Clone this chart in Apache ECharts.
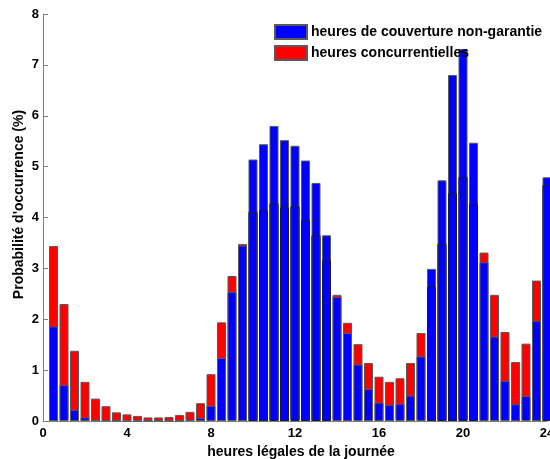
<!DOCTYPE html>
<html>
<head>
<meta charset="utf-8">
<script src="https://cdn.jsdelivr.net/npm/echarts@6/dist/echarts.min.js"></script>
<style>
html,body{margin:0;padding:0;background:#fff;}
#chart{width:550px;height:459px;}
</style>
</head>
<body>
<div id="chart"></div>
<script>
// hours (bar positions)
var hours = [0.5, 1, 1.5, 2, 2.5, 3, 3.5, 4, 4.5, 5, 5.5, 6, 6.5, 7, 7.5, 8,
             8.5, 9, 9.5, 10, 10.5, 11, 11.5, 12, 12.5, 13, 13.5, 14, 14.5, 15, 15.5, 16,
             16.5, 17, 17.5, 18, 18.5, 19, 19.5, 20, 20.5, 21, 21.5, 22, 22.5, 23, 23.5, 24];
// heures concurrentielles (red, drawn behind)
var concurrentielles = [3.44, 2.30, 1.38, 0.77, 0.44, 0.29, 0.17, 0.13, 0.10, 0.07, 0.07, 0.08, 0.12, 0.18, 0.35, 0.92,
                        1.94, 2.85, 3.48, 4.11, 4.14, 4.28, 4.20, 4.22, 3.95, 3.65, 3.16, 2.48, 1.93, 1.51, 1.14, 0.87,
                        0.77, 0.84, 1.14, 1.73, 2.64, 3.48, 4.48, 4.80, 4.27, 3.31, 2.48, 1.75, 1.16, 1.52, 2.76, 4.64];
// heures de couverture non-garantie (blue, drawn in front)
var nonGarantie = [1.86, 0.71, 0.22, 0.07, 0.025, 0.01, 0, 0, 0, 0, 0, 0, 0, 0.03, 0.06, 0.30,
                   1.24, 2.54, 3.45, 5.14, 5.44, 5.80, 5.52, 5.41, 5.12, 4.68, 3.65, 2.44, 1.73, 1.11, 0.63, 0.36,
                   0.32, 0.34, 0.50, 1.27, 2.99, 4.73, 6.80, 7.31, 5.47, 3.12, 1.66, 0.79, 0.33, 0.49, 1.97, 4.79];
var xTicks = [0, 4, 8, 12, 16, 20, 24];
var yTicks = [0, 1, 2, 3, 4, 5, 6, 7, 8];

var nameBlue = 'heures de couverture non-garantie';
var nameRed = 'heures concurrentielles';

// category axis: axis origin 0 followed by the bar hours
var cats = [0].concat(hours);
function padded(vals) { return [null].concat(vals); }
var edgeVals = concurrentielles.map(function (r, i) { return r < nonGarantie[i] ? r : null; });

var FONT = 'Liberation Sans, Arial, sans-serif';
var chart = echarts.init(document.getElementById('chart'));
chart.setOption({
  animation: false,
  backgroundColor: '#ffffff',
  grid: { left: 43, right: 3, top: 14, bottom: 38, containLabel: false, outerBoundsMode: 'none' },
  legend: {
    data: [nameBlue, nameRed],
    orient: 'vertical',
    left: 274, top: 24,
    icon: 'rect',
    itemWidth: 32, itemHeight: 14, itemGap: 5,
    textStyle: { fontFamily: FONT, fontWeight: 'bold', fontSize: 14, color: '#000', padding: [0, 0, 0, -1] },
    padding: 0
  },
  xAxis: {
    type: 'category', data: cats, boundaryGap: false,
    name: 'heures légales de la journée', nameLocation: 'middle', nameGap: 21,
    nameTextStyle: { fontFamily: FONT, fontWeight: 'bold', fontSize: 14, color: '#000', padding: [0, 0, 0, 12] },
    axisLine: { show: true, lineStyle: { color: '#808080', width: 1 } },
    axisTick: { show: false },
    splitLine: { show: false },
    axisLabel: { interval: 0, fontFamily: FONT, fontWeight: 'bold', fontSize: 13, color: '#000', margin: 6,
      formatter: function (v) { return xTicks.indexOf(Number(v)) >= 0 ? String(v) : ''; } }
  },
  yAxis: {
    type: 'value', min: 0, max: 8, interval: 1,
    name: "Probabilité d'occurrence (%)", nameLocation: 'middle', nameGap: 17, nameMoveOverlap: false,
    nameTextStyle: { fontFamily: FONT, fontWeight: 'bold', fontSize: 14, color: '#000', padding: [0, 0, 0, 26] },
    axisLine: { show: true, lineStyle: { color: '#808080', width: 1 } },
    axisTick: { show: true, inside: true, length: 5, lineStyle: { color: '#808080' } },
    splitLine: { show: false },
    axisLabel: { fontFamily: FONT, fontWeight: 'bold', fontSize: 13, color: '#000', margin: 4,
      formatter: function (v) { return yTicks.indexOf(v) >= 0 ? String(v) : ''; } }
  },
  series: [
    {
      name: nameRed, type: 'bar', data: padded(concurrentielles), barWidth: 9, barGap: '-100%', clip: false,
      itemStyle: { color: '#ff0000', borderColor: '#5a5a5a', borderWidth: 1 }, z: 2
    },
    {
      name: nameBlue, type: 'bar', data: padded(nonGarantie), barWidth: 9, barGap: '-100%', clip: false,
      itemStyle: { color: '#0000ff', borderColor: '#5a5a5a', borderWidth: 1 }, z: 3
    },
    {
      name: 'edge', type: 'bar', data: padded(edgeVals), barWidth: 9, barGap: '-100%', clip: false,
      itemStyle: { color: 'rgba(0,0,0,0)', borderColor: '#1a1a40', borderWidth: 1 }, z: 4, silent: true
    }
  ]
});
</script>
</body>
</html>
